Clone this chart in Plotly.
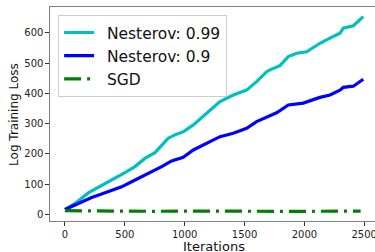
import plotly.graph_objects as go

cyan_x = [0, 84, 195, 251, 334, 418, 501, 585, 668, 752, 808, 863, 919, 988, 1072, 1184, 1295, 1406, 1518, 1601, 1685, 1713, 1796, 1866, 1936, 2019, 2130, 2214, 2297, 2325, 2409, 2492]
cyan_y = [16, 36, 71, 83, 103, 119, 138, 158, 185, 204, 229, 252, 263, 273, 296, 334, 373, 395, 411, 439, 472, 478, 492, 522, 533, 538, 566, 583, 599, 616, 624, 654]

blue_x = [0, 139, 223, 306, 390, 473, 557, 640, 724, 808, 891, 988, 1072, 1184, 1295, 1406, 1518, 1601, 1685, 1768, 1866, 1991, 2130, 2214, 2297, 2325, 2409, 2492]
blue_y = [16, 42, 56, 67, 80, 91, 108, 124, 141, 158, 177, 189, 213, 235, 257, 268, 285, 307, 323, 336, 362, 368, 387, 395, 411, 420, 424, 447]

sgd_x = [0, 250, 500, 750, 1000, 1250, 1500, 1750, 2000, 2250, 2470]
sgd_y = [12, 11, 11, 10, 11, 10, 10, 10, 10, 10, 11]

xticks = [0, 500, 1000, 1500, 2000, 2500]
yticks = [0, 100, 200, 300, 400, 500, 600]

GAP = "\u2002"

fig = go.Figure()
fig.add_trace(go.Scatter(x=cyan_x, y=cyan_y, mode="lines", name=GAP + "Nesterov: 0.99",
                         line=dict(color="#00BFBF", width=3.2)))
fig.add_trace(go.Scatter(x=blue_x, y=blue_y, mode="lines", name=GAP + "Nesterov: 0.9",
                         line=dict(color="#0000FF", width=3.2)))
fig.add_trace(go.Scatter(x=sgd_x, y=sgd_y, mode="lines", name=GAP + "SGD",
                         line=dict(color="#008000", width=3.2, dash="17px,6px,3px,6px")))

fig.update_layout(
    width=375, height=252,
    margin=dict(l=50, r=0, t=7, b=31, autoexpand=False),
    paper_bgcolor="white", plot_bgcolor="white",
    font=dict(family="DejaVu Sans", color="#222222"),
    showlegend=True,
    legend=dict(x=0.025, y=0.963, xanchor="left", yanchor="top",
                bgcolor="rgba(255,255,255,0.8)", bordercolor="#cccccc", borderwidth=1,
                font=dict(size=15.5, color="#111111"), tracegroupgap=0),
    annotations=[
        dict(text="Iterations", xref="paper", yref="paper", x=0.506, y=-0.117,
             xanchor="center", yanchor="middle", showarrow=False,
             font=dict(size=13, color="#111111")),
        dict(text="Log Training Loss", xref="paper", yref="paper", x=-0.111, y=0.5,
             xanchor="center", yanchor="middle", showarrow=False, textangle=-90,
             font=dict(size=12, color="#111111")),
    ],
)
fig.update_xaxes(range=[-125, 2590], tickvals=xticks, ticks="outside", ticklen=3.5,
                 tickcolor="#333333", showgrid=False, zeroline=False, automargin=False,
                 showline=True, linecolor="#808080", linewidth=1.2, mirror=True,
                 ticklabeloverflow="allow", tickfont=dict(size=10))
fig.update_yaxes(range=[-22, 686], tickvals=yticks, ticks="outside", ticklen=3.5,
                 tickcolor="#333333", showgrid=False, zeroline=False, automargin=False,
                 showline=True, linecolor="#808080", linewidth=1.2,
                 ticklabeloverflow="allow", tickfont=dict(size=10))

fig.write_html("out.html", config={"displayModeBar": False},
               post_script="document.body.style.margin='0';document.body.style.overflow='hidden';")
